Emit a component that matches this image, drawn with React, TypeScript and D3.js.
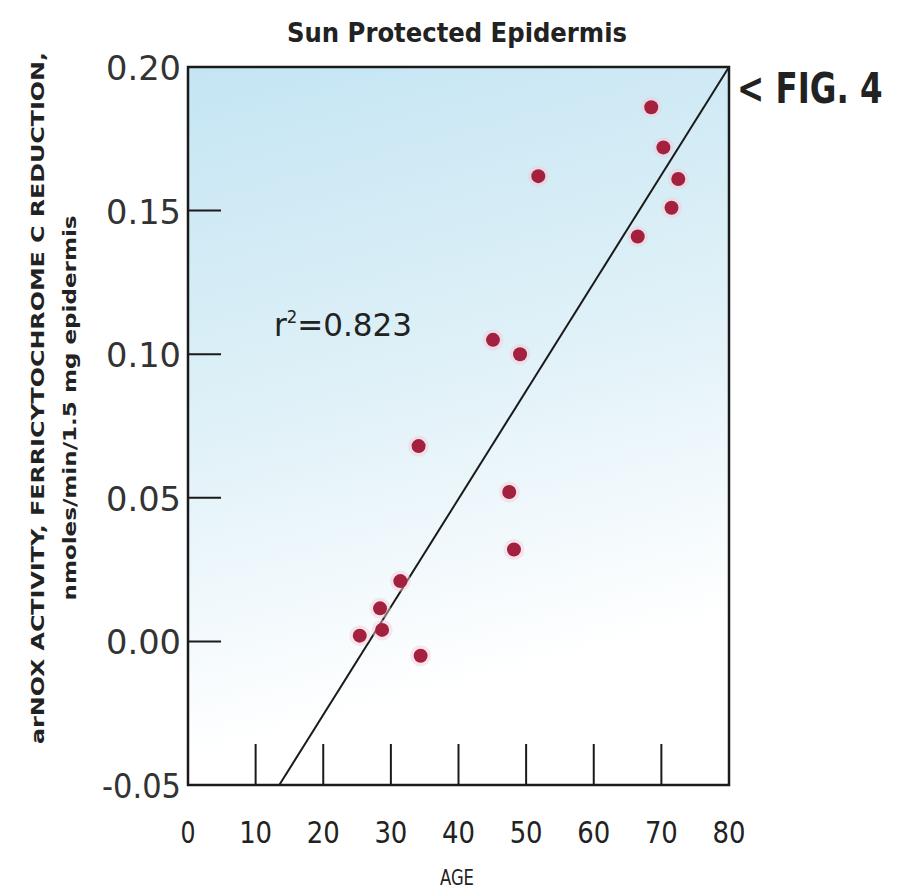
import React from "react";
import * as d3 from "d3";

// values
const ages = [68.5, 70.3, 72.5, 71.5, 66.5, 51.8, 45.1, 49.1, 34.1, 47.5, 48.2, 31.4, 28.4, 25.4, 28.7, 34.4];
const activity = [0.186, 0.172, 0.161, 0.151, 0.141, 0.162, 0.105, 0.1, 0.068, 0.052, 0.032, 0.021, 0.0115, 0.002, 0.004, -0.005];
const fitAges = [13.5, 80];
const fitValues = [-0.05, 0.2];
const xTicks = [0, 10, 20, 30, 40, 50, 60, 70, 80];
const yTicks = [0.2, 0.15, 0.1, 0.05, 0.0, -0.05];

const W = 901;
const H = 889;
const plot = { left: 188, right: 729, top: 67, bottom: 785 };
const narrow = "'Liberation Sans Narrow', 'DejaVu Sans Condensed', 'Roboto Condensed', 'Arial Narrow', sans-serif";

export default function App() {
  const x = d3.scaleLinear().domain([0, 80]).range([plot.left, plot.right]);
  const y = d3.scaleLinear().domain([-0.05, 0.2]).range([plot.bottom, plot.top]);

  const fitLine = d3
    .line<number>()
    .x((d) => x(d))
    .y((_, i) => y(fitValues[i]))(fitAges);

  return (
    <svg
      width={W}
      height={H}
      style={{ position: "absolute", left: 0, top: 0, background: "#fff" }}
    >
      <defs>
        <linearGradient id="bg" x1="0" y1="0" x2="0.2" y2="1">
          <stop offset="0" stopColor="#c4e5f3" />
          <stop offset="0.5" stopColor="#e0f1f8" />
          <stop offset="0.93" stopColor="#ffffff" />
        </linearGradient>
      </defs>

      {/* title */}
      <text x={457} y={42} textAnchor="middle" fontFamily={narrow} fontWeight="bold" fontSize={27} fill="#222" textLength={340} lengthAdjust="spacingAndGlyphs">
        Sun Protected Epidermis
      </text>

      {/* plot background */}
      <rect x={plot.left} y={plot.top} width={plot.right - plot.left} height={plot.bottom - plot.top} fill="url(#bg)" />

      {/* y ticks, drawn inward */}
      {yTicks.map((t) => (
        <g key={`y-${t}`}>
          <line x1={plot.left} x2={plot.left + 33} y1={y(t)} y2={y(t)} stroke="#1a1a1a" strokeWidth={2} />
          <text
            x={181}
            y={y(t) + 13}
            textAnchor="end"
            fontFamily="'DejaVu Sans', sans-serif"
            fontSize={34}
            fill="#333"
            textLength={t < 0 ? 79 : 75}
            lengthAdjust="spacingAndGlyphs"
          >
            {t.toFixed(2)}
          </text>
        </g>
      ))}

      {/* x ticks, drawn inward */}
      {xTicks.map((t) => (
        <g key={`x-${t}`}>
          <line x1={x(t)} x2={x(t)} y1={plot.bottom} y2={plot.bottom - 41} stroke="#1a1a1a" strokeWidth={2} />
          <text
            x={x(t)}
            y={843}
            textAnchor="middle"
            fontFamily={narrow}
            fontSize={30}
            fill="#222"
            textLength={t === 0 ? 15 : 33}
            lengthAdjust="spacingAndGlyphs"
          >
            {t}
          </text>
        </g>
      ))}

      {/* regression line */}
      <path d={fitLine ?? ""} fill="none" stroke="#1a1a1a" strokeWidth={2} />

      {/* points */}
      {ages.map((a, i) => (
        <g key={`p-${i}`}>
          <circle cx={x(a)} cy={y(activity[i])} r={10.5} fill="#f6c9d6" opacity={0.45} />
          <circle cx={x(a)} cy={y(activity[i])} r={7} fill="#a3213e" />
        </g>
      ))}

      {/* frame */}
      <rect x={plot.left} y={plot.top} width={plot.right - plot.left} height={plot.bottom - plot.top} fill="none" stroke="#1a1a1a" strokeWidth={2.5} />

      {/* r squared */}
      <text x={274} y={336} fontFamily={narrow} fontSize={32} fill="#222" textLength={138} lengthAdjust="spacingAndGlyphs">
        r<tspan dy={-13} fontSize={17}>2</tspan>
        <tspan dy={13}>=0.823</tspan>
      </text>

      {/* figure tag, squeezed sideways */}
      <text transform="translate(737,103) scale(0.86,1)" fontFamily={narrow} fontWeight="bold" fontSize={42} fill="#222">
        {"< FIG. 4"}
      </text>

      {/* x axis title */}
      <text x={457} y={885} textAnchor="middle" fontFamily={narrow} fontSize={22} fill="#222" textLength={34} lengthAdjust="spacingAndGlyphs">
        AGE
      </text>

      {/* y axis title */}
      <text
        transform="translate(44,398) rotate(-90)"
        textAnchor="middle"
        fontFamily={narrow}
        fontWeight="bold"
        fontSize={18}
        fill="#222"
        textLength={692}
        lengthAdjust="spacingAndGlyphs"
      >
        arNOX ACTIVITY, FERRICYTOCHROME C REDUCTION,
      </text>
      <text
        transform="translate(76,408) rotate(-90)"
        textAnchor="middle"
        fontFamily={narrow}
        fontWeight="bold"
        fontSize={17}
        fill="#222"
        textLength={385}
        lengthAdjust="spacingAndGlyphs"
      >
        nmoles/min/1.5 mg epidermis
      </text>
    </svg>
  );
}
